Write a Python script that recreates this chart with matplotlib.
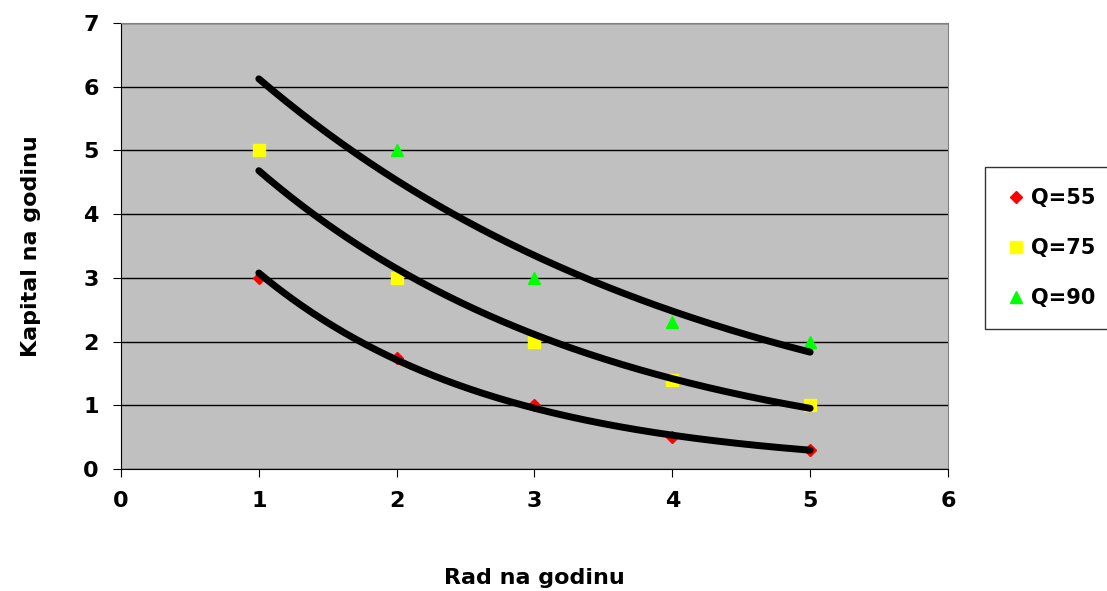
import numpy as np
import matplotlib.pyplot as plt

# data
rad_55 = [1, 2, 3, 4, 5]
kap_55 = [3, 1.75, 1, 0.5, 0.3]
rad_75 = [1, 2, 3, 4, 5]
kap_75 = [5, 3, 2, 1.4, 1]
rad_90 = [2, 3, 4, 5]
kap_90 = [5, 3, 2.3, 2]

series = [
    ("Q=55", rad_55, kap_55, "D", "#ff0000", 6),
    ("Q=75", rad_75, kap_75, "s", "#ffff00", 8),
    ("Q=90", rad_90, kap_90, "^", "#00ff00", 8),
]

fig = plt.figure(figsize=(11.07, 5.91), dpi=100)
ax = fig.add_axes([121 / 1107, 1 - 469 / 591, (948 - 121) / 1107, (469 - 23) / 591])
ax.set_facecolor("#c0c0c0")

# exponential trendlines (Excel style), Q=90 extended one unit backward
for name, x, y, m, c, s in series:
    b, a = np.polyfit(x, np.log(y), 1)
    xs = np.linspace(1, 5, 200)
    ax.plot(xs, np.exp(a + b * xs), color="black", lw=5, solid_capstyle="round", zorder=3)

for name, x, y, m, c, s in series:
    ax.plot(x, y, linestyle="none", marker=m, color=c, markersize=s, label=name, zorder=2)

ax.set_xlim(0, 6)
ax.set_ylim(0, 7)
ax.set_xticks(range(0, 7))
ax.set_yticks(range(0, 8))
ax.grid(axis="y", color="black", lw=1)
ax.set_axisbelow(True)
for sp in ax.spines.values():
    sp.set_color("#808080")
ax.spines["left"].set_color("black")
ax.spines["bottom"].set_color("black")
ax.tick_params(direction="out", length=6, labelsize=16, pad=10)
for t in ax.get_xticklabels() + ax.get_yticklabels():
    t.set_fontweight("bold")

ax.set_xlabel("Rad na godinu", fontsize=16, fontweight="bold", labelpad=41)
ax.set_ylabel("Kapital na godinu", fontsize=16, fontweight="bold", labelpad=30)

leg = fig.legend(loc="upper left", bbox_to_anchor=(985 / 1107, 1 - 167 / 591),
                 borderaxespad=0, frameon=True, fancybox=False, handletextpad=0.2,
                 handlelength=1.0, labelspacing=1.45, borderpad=1.0,
                 prop={"weight": "bold", "size": 15})
leg.get_frame().set_edgecolor("black")
leg.get_frame().set_linewidth(1)

fig.savefig("out.png", dpi=100)
